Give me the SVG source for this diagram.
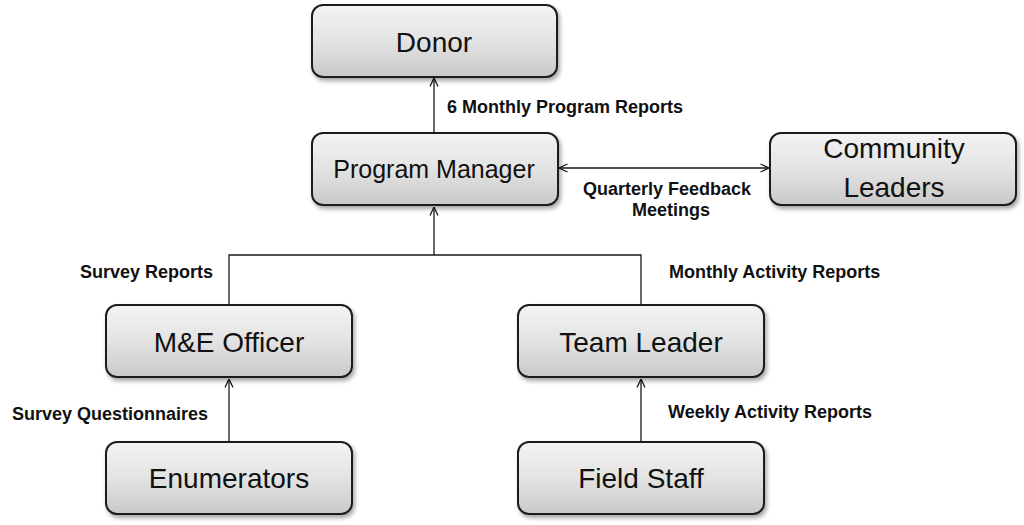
<svg xmlns="http://www.w3.org/2000/svg" width="1024" height="525" viewBox="0 0 1024 525">
<defs>
<linearGradient id="g" x1="0" y1="0" x2="0" y2="1">
<stop offset="0" stop-color="#f3f3f3"/>
<stop offset="0.5" stop-color="#e3e3e3"/>
<stop offset="1" stop-color="#c9c9c9"/>
</linearGradient>
<filter id="sh" x="-10%" y="-10%" width="125%" height="135%">
<feDropShadow dx="2" dy="3" stdDeviation="2" flood-color="#000" flood-opacity="0.35"/>
</filter>
<marker id="arr" viewBox="0 0 10 10" refX="9.5" refY="5" markerWidth="10" markerHeight="10" markerUnits="userSpaceOnUse" orient="auto-start-reverse">
<path d="M1,1 L9.5,5 L1,9" fill="none" stroke="#1a1a1a" stroke-width="1.3"/>
</marker>
<style>
.box{fill:url(#g);stroke:#1e1e1e;stroke-width:2;filter:url(#sh)}
.nt{font-family:"Liberation Sans",Arial,sans-serif;font-size:28px;fill:#111;text-anchor:middle}
.lb{font-family:"Liberation Sans",Arial,sans-serif;font-size:18px;font-weight:bold;fill:#111}
.c{fill:none;stroke:#1a1a1a;stroke-width:1.3}
</style>
</defs>
<rect width="1024" height="525" fill="#fff"/>
<g id="connectors">
<line class="c" x1="434" y1="132" x2="434" y2="78" marker-end="url(#arr)"/>
<line class="c" x1="559" y1="168" x2="769" y2="168" marker-start="url(#arr)" marker-end="url(#arr)"/>
<polyline class="c" points="229,305 229,255 641,255 641,305"/>
<line class="c" x1="434" y1="255" x2="434" y2="207" marker-end="url(#arr)"/>
<line class="c" x1="229" y1="442" x2="229" y2="379" marker-end="url(#arr)"/>
<line class="c" x1="641" y1="442" x2="641" y2="379" marker-end="url(#arr)"/>
</g>
<g id="labels">
<text class="lb" x="447" y="113">6 Monthly Program Reports</text>
<text class="lb" x="667" y="195" text-anchor="middle">Quarterly Feedback</text>
<text class="lb" x="671" y="216" text-anchor="middle">Meetings</text>
<text class="lb" x="80" y="278">Survey Reports</text>
<text class="lb" x="669" y="278">Monthly Activity Reports</text>
<text class="lb" x="12" y="420">Survey Questionnaires</text>
<text class="lb" x="668" y="418">Weekly Activity Reports</text>
</g>
<g id="donor">
<rect class="box" x="312" y="5" width="245" height="72" rx="11"/>
<text class="nt" x="434" y="52">Donor</text>
</g>
<g id="program-manager">
<rect class="box" x="312" y="133" width="246" height="72" rx="11"/>
<text class="nt" x="434" y="178" style="font-size:25px">Program Manager</text>
</g>
<g id="community-leaders">
<rect class="box" x="770" y="133" width="246" height="72" rx="11"/>
<text class="nt" x="894" y="158">Community</text>
<text class="nt" x="894" y="197">Leaders</text>
</g>
<g id="me-officer">
<rect class="box" x="106" y="305" width="246" height="72" rx="11"/>
<text class="nt" x="229" y="352">M&amp;E Officer</text>
</g>
<g id="team-leader">
<rect class="box" x="518" y="305" width="246" height="72" rx="11"/>
<text class="nt" x="641" y="352">Team Leader</text>
</g>
<g id="enumerators">
<rect class="box" x="106" y="442" width="246" height="72" rx="11"/>
<text class="nt" x="229" y="488">Enumerators</text>
</g>
<g id="field-staff">
<rect class="box" x="518" y="442" width="246" height="72" rx="11"/>
<text class="nt" x="641" y="488">Field Staff</text>
</g>
</svg>
